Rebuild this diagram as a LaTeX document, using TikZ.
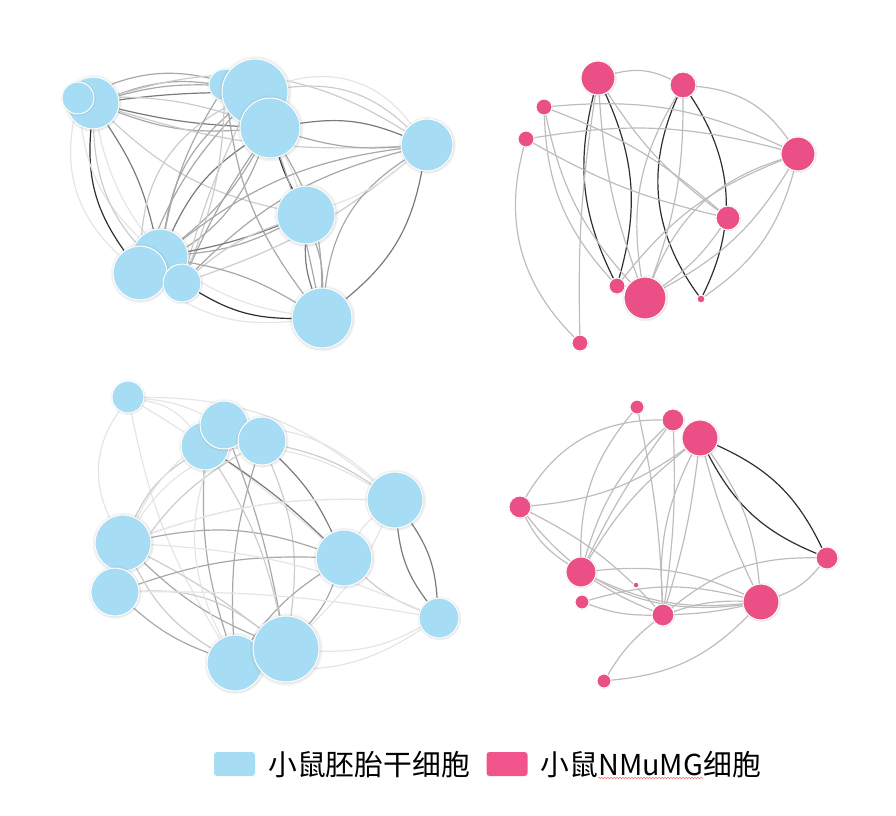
\documentclass[tikz,border=0pt]{standalone}
\usepackage{fontspec}
\newfontfamily\cjk{Noto Sans CJK SC}
\usetikzlibrary{positioning,backgrounds,shadows,decorations.pathmorphing}
\definecolor{esblue}{HTML}{A6DDF5}
\definecolor{nmpink}{HTML}{EA5085}
\definecolor{legpink}{HTML}{F0548A}
\begin{document}
\begin{tikzpicture}[x=1pt,y=-1pt,
  cell/.style={circle,draw=white,line width=1pt,inner sep=0pt,
    circular drop shadow={shadow xshift=0pt,shadow yshift=0pt,shadow scale=1.12,opacity=.3}},
  esc/.style={cell,fill=esblue},
  nmg/.style={cell,fill=nmpink},
  link/.style={line width=1.2pt,line cap=round},
  faint/.style={link,black!10},
  lite/.style={link,black!20},
  mid/.style={link,black!34},
  deep/.style={link,black!52},
  pk/.style={link,black!26},
  dark/.style={link,black!82},
  legbox/.style={rounded corners=3pt,minimum width=41pt,minimum height=24pt,inner sep=0pt},
  legtext/.style={inner sep=0pt,anchor=base west,font=\cjk\fontsize{28.8pt}{32pt}\selectfont}]
\useasboundingbox (0,0) rectangle (896,815);

% embryonic stem cells, top
\node[esc,minimum size=52pt] (A2)  at (93,103)  {};
\node[esc,minimum size=32pt] (A1)  at (78,98)   {};
\node[esc,minimum size=32pt] (A3)  at (225,85)  {};
\node[esc,minimum size=66pt] (A4)  at (255,92)  {};
\node[esc,minimum size=60pt] (A5)  at (270,128) {};
\node[esc,minimum size=52pt] (A6)  at (427,145) {};
\node[esc,minimum size=58pt] (A7)  at (306,215) {};
\node[esc,minimum size=56pt] (A8)  at (160,257) {};
\node[esc,minimum size=54pt] (A9)  at (140,273) {};
\node[esc,minimum size=38pt] (A10) at (182,283) {};
\node[esc,minimum size=60pt] (A11) at (322,318) {};

% NMuMG cells, top
\node[nmg,minimum size=34pt] (B1)  at (598,78)  {};
\node[nmg,minimum size=26pt] (B2)  at (683,85)  {};
\node[nmg,minimum size=16pt] (B3)  at (544,107) {};
\node[nmg,minimum size=16pt] (B4)  at (526,139) {};
\node[nmg,minimum size=34pt] (B5)  at (798,154) {};
\node[nmg,minimum size=24pt] (B6)  at (728,218) {};
\node[nmg,minimum size=16pt] (B7)  at (617,286) {};
\node[nmg,minimum size=42pt] (B8)  at (645,298) {};
\node[nmg,minimum size=8pt]  (B9)  at (701,299) {};
\node[nmg,minimum size=16pt] (B10) at (580,343) {};

% embryonic stem cells, bottom
\node[esc,minimum size=32pt] (C1)  at (128,397) {};
\node[esc,minimum size=48pt] (C2)  at (205,446) {};
\node[esc,minimum size=48pt] (C3)  at (224,425) {};
\node[esc,minimum size=48pt] (C4)  at (262,441) {};
\node[esc,minimum size=56pt] (C5)  at (395,500) {};
\node[esc,minimum size=56pt] (C6)  at (123,543) {};
\node[esc,minimum size=56pt] (C7)  at (344,558) {};
\node[esc,minimum size=48pt] (C8)  at (115,592) {};
\node[esc,minimum size=40pt] (C9)  at (439,618) {};
\node[esc,minimum size=56pt] (C10) at (235,663) {};
\node[esc,minimum size=66pt] (C11) at (286,649) {};

% NMuMG cells, bottom
\node[nmg,minimum size=14pt] (D1)  at (637,407) {};
\node[nmg,minimum size=22pt] (D2)  at (673,420) {};
\node[nmg,minimum size=36pt] (D3)  at (700,438) {};
\node[nmg,minimum size=22pt] (D4)  at (520,507) {};
\node[nmg,minimum size=22pt] (D5)  at (827,558) {};
\node[nmg,minimum size=30pt] (D6)  at (581,572) {};
\node[nmg,minimum size=6pt]  (D7)  at (636,585) {};
\node[nmg,minimum size=14pt] (D8)  at (582,602) {};
\node[nmg,minimum size=22pt] (D9)  at (663,615) {};
\node[nmg,minimum size=36pt] (D10) at (761,602) {};
\node[nmg,minimum size=14pt] (D11) at (604,681) {};

\begin{pgfonlayer}{background}
\path (A2) edge[mid,bend left=15]   (A4)
      (A2) edge[deep,bend left=3]   (A4)
      (A2) edge[mid,bend left=8]    (A3)
      (A1) edge[mid,bend left=20]   (A4)
      (A2) edge[deep,bend right=5]  (A5)
      (A2) edge[mid,bend right=12]  (A5)
      (A2) edge[lite,bend left=25]  (A6)
      (A2) edge[lite,bend right=10] (A6)
      (A2) edge[lite,bend right=15] (A7)
      (A2) edge[dark,bend right=20] (A9)
      (A2) edge[deep,bend left=10]  (A8)
      (A1) edge[faint,bend right=30] (A9)
      (A1) edge[faint,bend right=20] (A8)
      (A2) edge[faint,bend right=35] (A11)
      (A2) edge[lite,bend right=25] (A10)
      (A1) edge[lite,bend left=10]  (A5)
      (A4) edge[lite,bend left=25]  (A6)
      (A4) edge[faint,bend left=35] (A6)
      (A5) edge[deep,bend left=15]  (A6)
      (A5) edge[mid,bend right=10]  (A6)
      (A5) edge[dark,bend right=5]  (A7)
      (A5) edge[mid,bend left=10]   (A8)
      (A5) edge[deep,bend right=15] (A8)
      (A5) edge[mid,bend right=5]   (A10)
      (A5) edge[mid,bend left=20]   (A9)
      (A5) edge[mid,bend left=15]   (A11)
      (A4) edge[mid,bend right=20]  (A8)
      (A4) edge[lite,bend right=30] (A9)
      (A9) edge[mid,bend left=10]   (A4)
      (A4) edge[lite,bend right=5]  (A10)
      (A4) edge[mid,bend left=5]    (A11)
      (A3) edge[mid,bend right=10]  (A8)
      (A3) edge[mid,bend right=15]  (A11)
      (A3) edge[lite,bend left=10]  (A10)
      (A3) edge[faint,bend left=15] (A7)
      (A6) edge[mid,bend right=15]  (A8)
      (A6) edge[lite,bend left=10]  (A10)
      (A10) edge[mid,bend left=15]  (A6)
      (A6) edge[deep,bend left=20]  (A11)
      (A6) edge[mid,bend right=25]  (A11)
      (A6) edge[faint,bend left=10] (A7)
      (A7) edge[mid,bend left=10]   (A8)
      (A8) edge[deep,bend right=5]  (A7)
      (A7) edge[deep,bend right=10] (A11)
      (A7) edge[mid,bend left=10]   (A11)
      (A7) edge[lite,bend right=10] (A10)
      (A10) edge[dark,bend right=15] (A11)
      (A8) edge[mid,bend left=10]   (A11)
      (A9) edge[faint,bend right=20] (A11);
\path (B1) edge[pk,bend left=20]    (B2)
      (B2) edge[pk,bend left=25]    (B5)
      (B1) edge[dark,bend right=20] (B7)
      (B1) edge[dark,bend left=20]  (B7)
      (B2) edge[dark,bend right=30] (B9)
      (B2) edge[dark,bend left=30]  (B9)
      (B3) edge[pk,bend left=15]    (B5)
      (B3) edge[pk,bend left=10]    (B6)
      (B3) edge[pk,bend right=15]   (B8)
      (B3) edge[pk,bend right=20]   (B7)
      (B4) edge[pk,bend left=12]    (B5)
      (B4) edge[pk,bend right=8]    (B6)
      (B4) edge[pk,bend right=30]   (B10)
      (B10) edge[pk,bend left=5]    (B1)
      (B1) edge[pk,bend right=10]   (B6)
      (B1) edge[pk,bend right=8]    (B8)
      (B2) edge[pk,bend right=20]   (B8)
      (B2) edge[pk,bend left=10]    (B8)
      (B5) edge[pk,bend right=25]   (B8)
      (B5) edge[pk,bend left=15]    (B8)
      (B5) edge[pk,bend right=15]   (B7)
      (B5) edge[pk,bend left=20]    (B9)
      (B6) edge[pk,bend left=10]    (B8);
\path (C1) edge[faint,bend right=30] (C6)
      (C1) edge[faint,bend left=10]  (C3)
      (C1) edge[faint,bend left=20]  (C5)
      (C1) edge[faint,bend right=10] (C10)
      (C1) edge[faint,bend left=5]   (C7)
      (C1) edge[faint,bend left=20]  (C2)
      (C2) edge[deep,bend left=5]    (C7)
      (C4) edge[deep,bend left=10]   (C7)
      (C5) edge[deep,bend right=15]  (C9)
      (C5) edge[deep,bend left=15]   (C9)
      (C2) edge[mid,bend right=10]   (C10)
      (C3) edge[mid,bend left=5]     (C11)
      (C4) edge[mid,bend right=10]   (C10)
      (C4) edge[lite,bend left=15]   (C11)
      (C6) edge[mid,bend left=15]    (C7)
      (C6) edge[mid,bend right=10]   (C11)
      (C6) edge[lite,bend left=5]    (C11)
      (C8) edge[mid,bend left=10]    (C7)
      (C8) edge[mid,bend right=10]   (C10)
      (C8) edge[lite,bend left=20]   (C11)
      (C7) edge[mid,bend left=10]    (C11)
      (C7) edge[mid,bend right=10]   (C10)
      (C7) edge[lite,bend right=10]  (C9)
      (C7) edge[faint,bend left=10]  (C5)
      (C4) edge[lite,bend right=15]  (C8)
      (C4) edge[lite,bend left=10]   (C5)
      (C4) edge[faint,bend right=20] (C6)
      (C5) edge[faint,bend right=10] (C6)
      (C5) edge[faint,bend left=10]  (C11)
      (C9) edge[faint,bend left=15]  (C11)
      (C9) edge[faint,bend left=20]  (C10)
      (C9) edge[faint,bend right=10] (C6)
      (C2) edge[faint,bend left=15]  (C5)
      (C2) edge[lite,bend left=10]   (C11)
      (C2) edge[lite,bend right=15]  (C6)
      (C3) edge[faint,bend left=20]  (C5)
      (C3) edge[faint,bend right=20] (C8)
      (C3) edge[faint,bend right=25] (C10)
      (C6) edge[lite,bend right=15]  (C10)
      (C6) edge[faint,bend left=10]  (C5)
      (C8) edge[faint,bend left=5]   (C9);
\path (D3) edge[dark,bend left=20]  (D5)
      (D3) edge[dark,bend right=20] (D5)
      (D4) edge[pk,bend left=30]    (D2)
      (D4) edge[pk,bend right=15]   (D3)
      (D4) edge[pk,bend left=10]    (D9)
      (D4) edge[pk,bend right=15]   (D6)
      (D4) edge[pk,bend right=30]   (D10)
      (D1) edge[pk,bend right=20]   (D6)
      (D1) edge[pk,bend left=5]     (D9)
      (D2) edge[pk,bend right=15]   (D6)
      (D2) edge[pk,bend right=5]    (D6)
      (D2) edge[pk,bend left=5]     (D9)
      (D3) edge[pk,bend right=10]   (D6)
      (D3) edge[pk,bend right=15]   (D9)
      (D3) edge[pk,bend left=5]     (D9)
      (D3) edge[pk,bend left=15]    (D10)
      (D3) edge[pk,bend right=5]    (D10)
      (D6) edge[pk,bend left=15]    (D10)
      (D6) edge[pk,bend right=5]    (D9)
      (D6) edge[pk,bend right=15]   (D10)
      (D5) edge[pk,bend left=15]    (D10)
      (D5) edge[pk,bend right=20]   (D9)
      (D8) edge[pk,bend left=15]    (D10)
      (D8) edge[pk,bend right=10]   (D9)
      (D9) edge[pk,bend left=10]    (D10)
      (D9) edge[pk,bend right=5]    (D10)
      (D9) edge[pk,bend right=10]   (D11)
      (D11) edge[pk,bend right=20]  (D10);
\end{pgfonlayer}

% legend
\node[legbox,fill=esblue]  (K1) at (234.5,764) {};
\node[legtext] (T1) at (268,775) {小鼠胚胎干细胞};
\node[legbox,fill=legpink] (K2) at (507,764) {};
\node[legtext] (T2a) at (540,775) {小鼠};
\node[legtext] (T2b) at (T2a.base east) {NMuMG};
\node[legtext] (T2c) at (T2b.base east) {细胞};
\draw[red!55,line width=.6pt,decorate,decoration={snake,amplitude=.8pt,segment length=3pt}]
  ([yshift=-3pt]T2b.base west) -- ([yshift=-3pt]T2b.base east);
\end{tikzpicture}
\end{document}
